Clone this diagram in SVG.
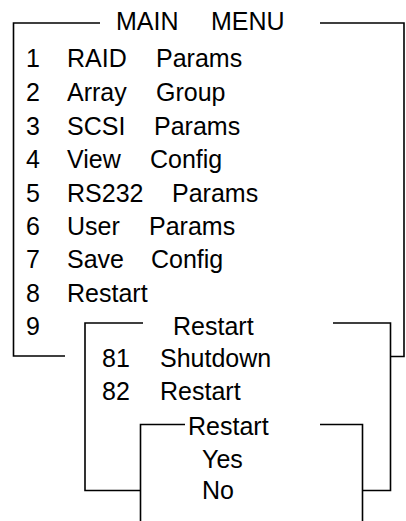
<svg xmlns="http://www.w3.org/2000/svg" width="406" height="521" viewBox="0 0 406 521">
<style>
text{font-family:"Liberation Sans",Arial,sans-serif;font-size:25px;fill:#000}
.f{fill:none;stroke:#000;stroke-width:1.6}
</style>
<rect width="406" height="521" fill="#fff"/>
<g id="main-menu">
<path class="f" d="M100,23 H13.5 V356 H65 M320,23 H404 V356.5 H390"/>
<text x="116" y="30">MAIN</text><text x="211" y="30">MENU</text>
<text x="26" y="67">1</text><text x="67" y="67">RAID</text><text x="156" y="67">Params</text>
<text x="26" y="100.5">2</text><text x="67" y="100.5">Array</text><text x="156" y="100.5">Group</text>
<text x="26" y="134.5">3</text><text x="67" y="134.5">SCSI</text><text x="154" y="134.5">Params</text>
<text x="26" y="168">4</text><text x="67" y="168">View</text><text x="150" y="168">Config</text>
<text x="26" y="201.5">5</text><text x="67" y="201.5">RS232</text><text x="172" y="201.5">Params</text>
<text x="26" y="235">6</text><text x="67" y="235">User</text><text x="149" y="235">Params</text>
<text x="26" y="268">7</text><text x="67" y="268">Save</text><text x="151" y="268">Config</text>
<text x="26" y="301.5">8</text><text x="67" y="301.5">Restart</text>
<text x="26" y="335">9</text>
</g>
<g id="restart-menu">
<path class="f" d="M143,323 H85 V490.5 H140.5 M333,323 H390.5 V490.5 H362.5"/>
<text x="173" y="335">Restart</text>
<text x="102" y="367">81</text><text x="160" y="367">Shutdown</text>
<text x="102" y="400">82</text><text x="160" y="400">Restart</text>
</g>
<g id="confirm-menu">
<path class="f" d="M185,424.5 H140.5 V521 M320,424.5 H362.5 V521"/>
<text x="188" y="435">Restart</text>
<text x="202" y="468">Yes</text>
<text x="202" y="499">No</text>
</g>
<g id="connectors"/>
</svg>
